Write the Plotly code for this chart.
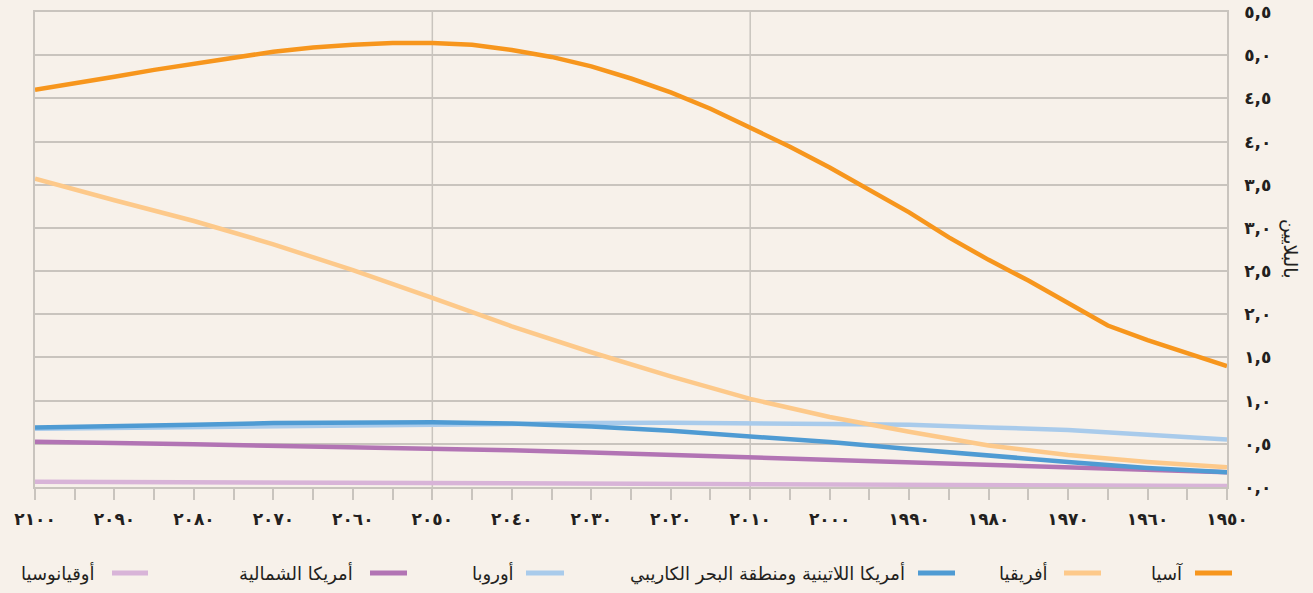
import plotly.graph_objects as go

# ---- data (billions) ----
years5 = [1950, 1955, 1960, 1965, 1970, 1975, 1980, 1985, 1990, 1995, 2000, 2005, 2010,
          2015, 2020, 2025, 2030, 2035, 2040, 2045, 2050, 2055, 2060, 2065, 2070, 2075,
          2080, 2085, 2090, 2095, 2100]
asia = [1.40, 1.55, 1.70, 1.87, 2.13, 2.39, 2.63, 2.89, 3.18, 3.44, 3.70, 3.94, 4.16,
        4.38, 4.57, 4.73, 4.87, 4.98, 5.06, 5.12, 5.14, 5.14, 5.12, 5.09, 5.04, 4.97,
        4.91, 4.83, 4.75, 4.67, 4.60]

years10 = [1950, 1960, 1970, 1980, 1990, 2000, 2010, 2020, 2030, 2040, 2050, 2060, 2070,
           2080, 2090, 2100]
africa = [0.23, 0.29, 0.37, 0.48, 0.64, 0.81, 1.02, 1.28, 1.56, 1.86, 2.19, 2.51, 2.81,
          3.08, 3.32, 3.57]
latam = [0.17, 0.22, 0.29, 0.36, 0.44, 0.52, 0.59, 0.65, 0.70, 0.735, 0.75, 0.75, 0.74,
         0.72, 0.70, 0.69]
europe = [0.55, 0.60, 0.66, 0.69, 0.72, 0.73, 0.74, 0.745, 0.74, 0.73, 0.72, 0.71, 0.70,
          0.69, 0.68, 0.675]
n_america = [0.17, 0.20, 0.23, 0.25, 0.28, 0.315, 0.345, 0.375, 0.40, 0.425, 0.445, 0.465,
             0.48, 0.495, 0.51, 0.525]
oceania = [0.013, 0.016, 0.020, 0.023, 0.027, 0.031, 0.037, 0.042, 0.047, 0.051, 0.055,
           0.058, 0.060, 0.061, 0.062, 0.062]

names = ["آسيا", "أفريقيا", "أمريكا اللاتينية ومنطقة البحر الكاريبي", "أوروبا",
         "أمريكا الشمالية", "أوقيانوسيا"]
colors = ["#f7961d", "#fdc98a", "#4f9bd3", "#a9cbeb", "#b274b4", "#d8b4d8"]

x_tickvals = [2100, 2090, 2080, 2070, 2060, 2050, 2040, 2030, 2020, 2010, 2000, 1990,
              1980, 1970, 1960, 1950]
x_ticktext = ["٢١٠٠", "٢٠٩٠", "٢٠٨٠", "٢٠٧٠", "٢٠٦٠", "٢٠٥٠", "٢٠٤٠", "٢٠٣٠", "٢٠٢٠",
              "٢٠١٠", "٢٠٠٠", "١٩٩٠", "١٩٨٠", "١٩٧٠", "١٩٦٠", "١٩٥٠"]
y_tickvals = [0, 0.5, 1, 1.5, 2, 2.5, 3, 3.5, 4, 4.5, 5, 5.5]
y_ticktext = ["٠,٠", "٠,٥", "١,٠", "١,٥", "٢,٠", "٢,٥", "٣,٠", "٣,٥", "٤,٠", "٤,٥",
              "٥,٠", "٥,٥"]
x_gridyears = [2050, 2010]
y_title = "بالبلايين"

bg = "#f7f1ea"
grid = "#c9c4be"
font_fam = "DejaVu Sans"
txt = "#231f20"

fig = go.Figure()
series = [(years5, asia), (years10, africa), (years10, latam), (years10, europe),
          (years10, n_america), (years10, oceania)]
# draw in reverse so Asia is on top
for i in reversed(range(len(series))):
    xs, ys = series[i]
    fig.add_trace(go.Scatter(x=xs, y=ys, mode="lines", name=names[i],
                             line=dict(color=colors[i], width=4.5),
                             showlegend=False))

for yr in x_gridyears:
    fig.add_shape(type="line", xref="x", yref="paper", x0=yr, x1=yr, y0=0, y1=1,
                  line=dict(color=grid, width=1.5), layer="below")

L, R, T, B = 35, 86, 12, 106
W, H = 1313, 593
pw = W - L - R
ph = H - T - B


def px2paper(px):
    return (px - L) / pw


def py2paper(py):
    return (H - B - py) / ph


# custom right-to-left legend
leg_y = py2paper(573)
leg_items = [  # (line x0, line x1, text right edge) in pixels
    (1195, 1232, 1185),
    (1064, 1101, 1050),
    (918, 955, 907),
    (526, 564, 516),
    (370, 407, 355),
    (112, 148, 97),
]

for i, (a, b, t) in enumerate(leg_items):
    fig.add_shape(type="line", xref="paper", yref="paper",
                  x0=px2paper(a), x1=px2paper(b), y0=leg_y, y1=leg_y,
                  line=dict(color=colors[i], width=5))
    fig.add_annotation(xref="paper", yref="paper", x=px2paper(t), y=leg_y,
                       text=names[i], showarrow=False, xanchor="right", yanchor="middle",
                       font=dict(family=font_fam, size=18, color=txt))

fig.add_annotation(xref="paper", yref="paper", x=px2paper(1290), y=py2paper(248),
                   text=y_title, textangle=90, showarrow=False,
                   xanchor="center", yanchor="middle",
                   font=dict(family=font_fam, size=19, color=txt))

fig.update_layout(
    width=W, height=H,
    paper_bgcolor=bg, plot_bgcolor=bg,
    margin=dict(l=L, r=R, t=T, b=B, autoexpand=False),
    showlegend=False,
    xaxis=dict(range=[2100, 1950], tickvals=x_tickvals, ticktext=x_ticktext,
               automargin=False,
               showgrid=False, zeroline=False, showline=True, linecolor=grid,
               linewidth=1.5, mirror=True, ticks="outside", ticklen=11,
               tickcolor=grid, tickwidth=1.5, ticklabelstandoff=5,
               minor=dict(dtick=5, tick0=1950, ticks="outside", ticklen=11,
                          tickcolor=grid, tickwidth=1.5, showgrid=False),
               tickfont=dict(family=font_fam, size=17, color=txt, weight="bold")),
    yaxis=dict(range=[0, 5.5], side="right", tickvals=y_tickvals, ticktext=y_ticktext,
               automargin=False,
               showgrid=True, gridcolor=grid, gridwidth=1.5, zeroline=False,
               showline=True, linecolor=grid, linewidth=1.5, mirror=True,
               ticks="", ticklabelstandoff=12,
               tickfont=dict(family=font_fam, size=17, color=txt, weight="bold")),
)

fig.write_html("out.html", config={"displayModeBar": False},
               post_script="document.body.style.margin='0';")
